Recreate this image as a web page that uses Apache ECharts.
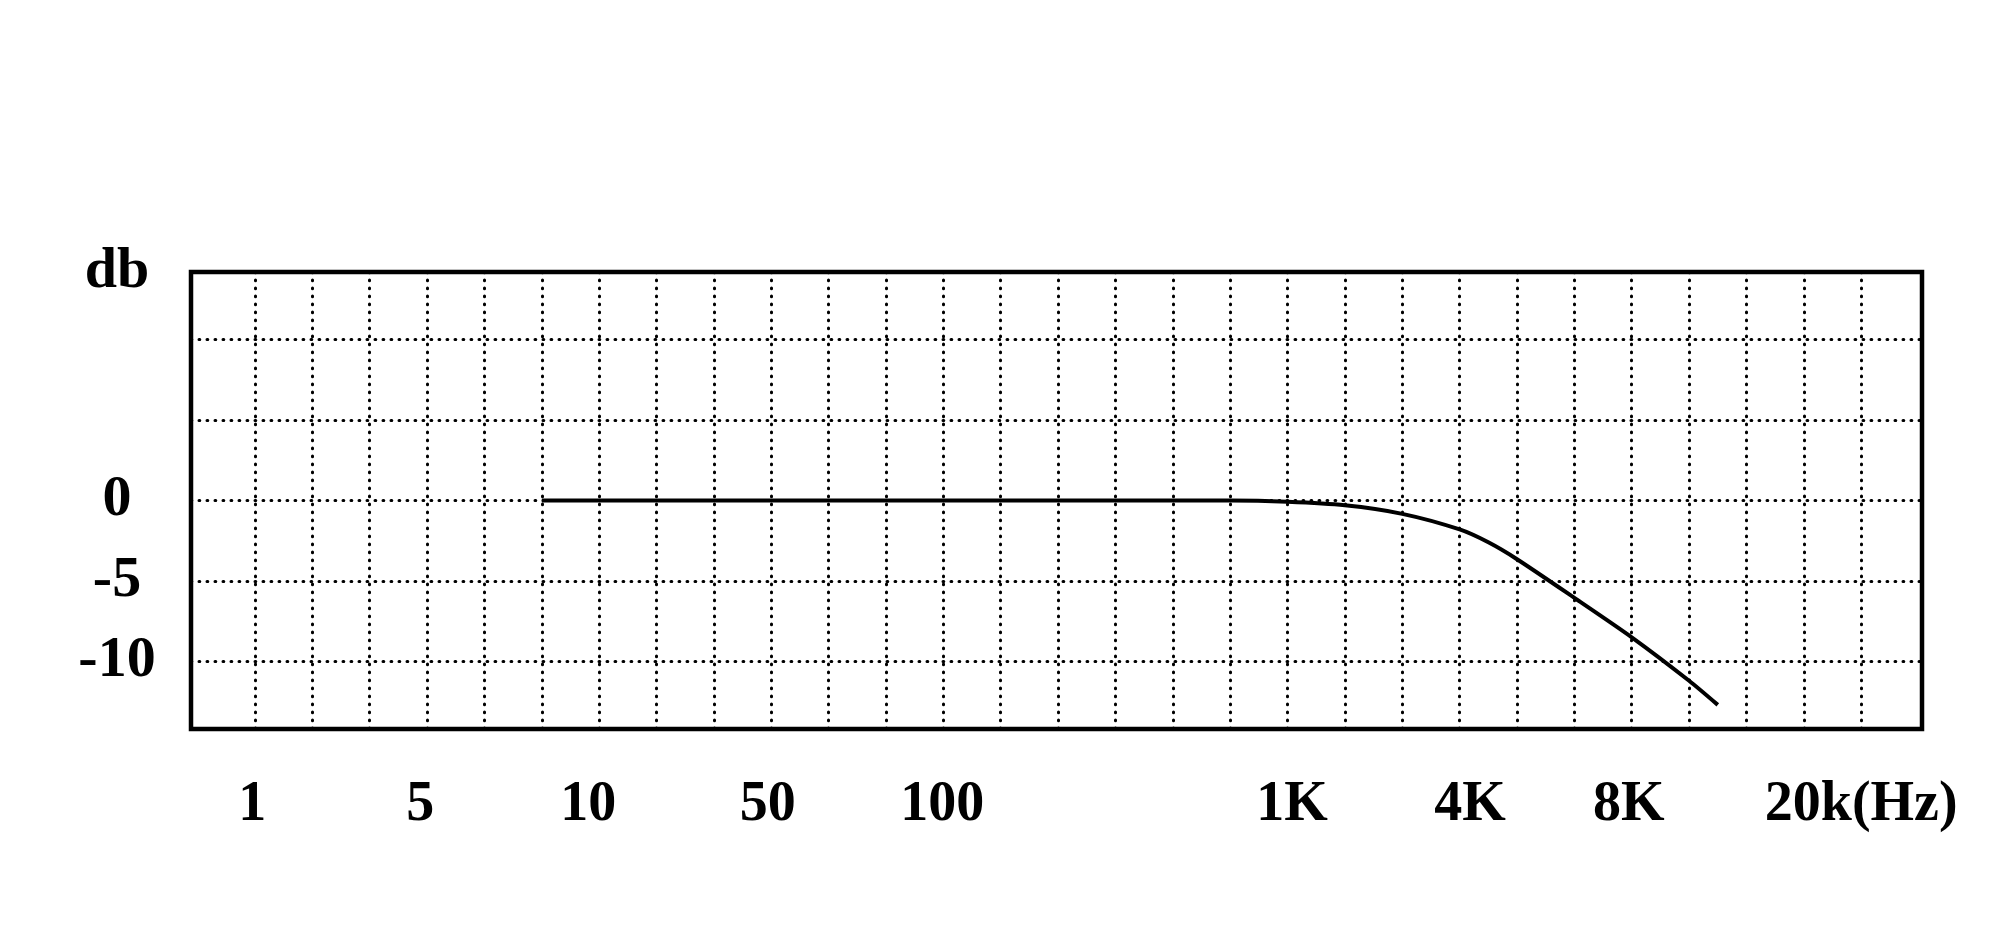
<!DOCTYPE html>
<html>
<head>
<meta charset="utf-8">
<script src="https://cdn.jsdelivr.net/npm/echarts@6/dist/echarts.min.js"></script>
<style>
html,body{margin:0;padding:0;background:#fff;}
#chart{width:1996px;height:952px;}
</style>
</head>
<body>
<div id="chart"></div>
<script>
// Grid-line positions along the frequency axis (index of each vertical grid line)
const xGridPositions = [0,1,2,3,4,5,6,7,8,9,10,11,12,13,14,15,16,17,18,19,20,21,22,23,24,25,26,27,28];
// Frequency tick labels and where they sit (in grid-line units)
const xTickLabels = ['1','5','10','50','100','1K','4K','8K','20k(Hz)'];
const xTickPositions = [-0.05, 2.88, 5.81, 8.94, 11.98, 18.08, 21.18, 23.95, 28.0];
// dB grid lines and labels
const yGridValues = [-10,-5,0,5,10];
const yTickValues = [-10,-5,0,14.2];
const yTickLabels = ['-10','-5','0','db'];
// Response curve: position along frequency axis (grid units) and level in dB
const curveX = [5, 16, 17, 18, 19, 20, 21, 21.5, 22, 23, 24, 25, 25.5];
const curveDb = [0, 0, 0, -0.08, -0.3, -0.83, -1.8, -2.6, -3.65, -6.05, -8.5, -11.2, -12.7];

const chart = echarts.init(document.getElementById('chart'), null, {renderer: 'canvas'});
const fontFamily = '"Liberation Serif", "Times New Roman", serif';
const gridStyle = {color: '#000', width: 3, type: [0.8, 7.2], cap: 'round'};

chart.setOption({
  backgroundColor: '#fff',
  animation: false,
  grid: {
    left: 191, right: 74, top: 272, bottom: 223,
    show: true, borderColor: '#000', borderWidth: 4.5, backgroundColor: 'transparent'
  },
  xAxis: {
    type: 'value',
    min: -1.116, max: 29.06,
    axisLine: {show: false},
    axisTick: {show: false, customValues: xGridPositions},
    splitLine: {show: true, lineStyle: gridStyle},
    axisLabel: {
      customValues: xTickPositions,
      formatter: function (v) {
        const i = xTickPositions.findIndex(p => Math.abs(p - v) < 1e-6);
        return i >= 0 ? xTickLabels[i] : '';
      },
      color: '#000', fontFamily: fontFamily, fontWeight: 'bold', fontSize: 56,
      margin: 77, verticalAlign: 'middle', align: 'center'
    }
  },
  yAxis: {
    type: 'value',
    min: -14.2, max: 14.2,
    axisLine: {show: false},
    axisTick: {show: false, customValues: yGridValues},
    splitLine: {show: true, lineStyle: gridStyle},
    axisLabel: {
      customValues: yTickValues,
      formatter: function (v) {
        const i = yTickValues.findIndex(p => Math.abs(p - v) < 1e-6);
        return i >= 0 ? yTickLabels[i] : '';
      },
      color: '#000', fontFamily: fontFamily, fontWeight: 'bold', fontSize: 58,
      margin: 74, align: 'center', verticalAlign: 'middle'
    }
  },
  series: [{
    type: 'line',
    data: curveX.map((x, i) => [x, curveDb[i]]),
    smooth: 0.25,
    showSymbol: false,
    lineStyle: {color: '#000', width: 4},
    z: 5
  }]
});
</script>
</body>
</html>
